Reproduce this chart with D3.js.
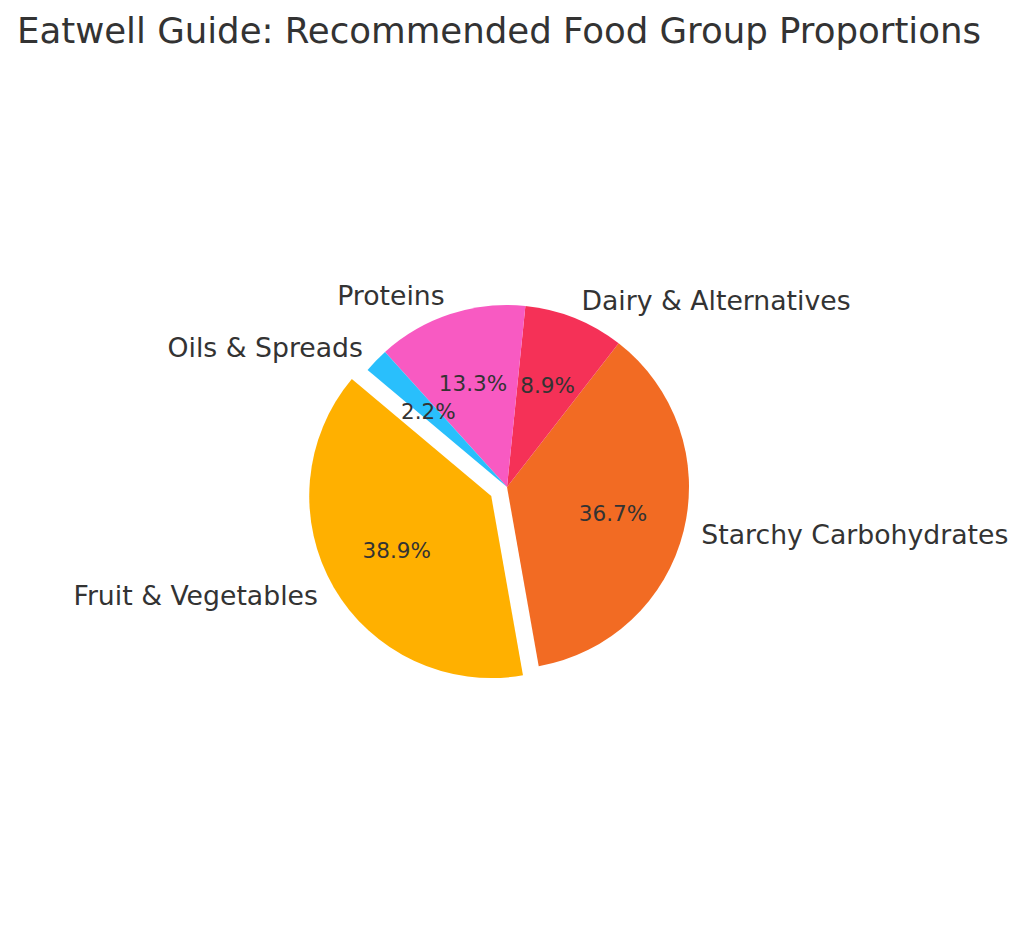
<!DOCTYPE html>
<html>
<head>
<meta charset="utf-8">
<script src="https://cdn.jsdelivr.net/npm/d3@7"></script>
<style>
  html, body { margin: 0; padding: 0; background: #fff; }
  svg { display: block; font-family: "DejaVu Sans", sans-serif; }
</style>
</head>
<body>
<svg id="chart" width="1024" height="944"></svg>
<script>
  'use strict';

  var categories = ['Fruit & Vegetables', 'Starchy Carbohydrates', 'Dairy & Alternatives', 'Proteins', 'Oils & Spreads'];
  var shares = [38.9, 36.7, 8.9, 13.3, 2.2];
  var colors = ['#ffb000', '#f26b23', '#f53157', '#f85ac2', '#29bffc'];
  var explode = [0.1, 0, 0, 0, 0];

  var cx = 507;
  var cy = 487;
  var radius = 182;
  var textColor = '#333333';

  var data = categories.map(function(c, i) {
    return { name: c, value: shares[i], color: colors[i], explode: explode[i] };
  });

  // matplotlib style: start at 140 deg, counterclockwise
  var start = (90 - 140) * Math.PI / 180;
  var pie = d3.pie()
    .sort(null)
    .value(function(d) { return d.value; })
    .startAngle(start)
    .endAngle(start - 2 * Math.PI);

  var arc = d3.arc().innerRadius(0).outerRadius(radius);

  var $svg = d3.select('#chart');

  $svg.append('text')
    .attr('x', 499)
    .attr('y', 43)
    .attr('text-anchor', 'middle')
    .attr('fill', textColor)
    .style('font-size', '35.6px')
    .attr('textLength', 964)
    .attr('lengthAdjust', 'spacing')
    .text('Eatwell Guide: Recommended Food Group Proportions');

  var arcs = pie(data);

  function mid(d) {
    return (d.startAngle + d.endAngle) / 2;
  }

  var $g = $svg.append('g')
    .attr('transform', 'translate(' + cx + ',' + cy + ')');

  var $slices = $g.selectAll('g.slice')
    .data(arcs)
    .enter()
    .append('g')
    .attr('class', 'slice')
    .attr('transform', function(d) {
      var a = mid(d);
      var off = d.data.explode * radius;
      return 'translate(' + (off * Math.sin(a)) + ',' + (-off * Math.cos(a)) + ')';
    });

  $slices.append('path')
    .attr('d', arc)
    .attr('fill', function(d) { return d.data.color; });

  $slices.append('text')
    .attr('x', function(d) { return 1.1 * radius * Math.sin(mid(d)); })
    .attr('y', function(d) { return -1.1 * radius * Math.cos(mid(d)) - 1; })
    .attr('text-anchor', function(d) { return Math.sin(mid(d)) < 0 ? 'end' : 'start'; })
    .attr('dominant-baseline', 'central')
    .attr('fill', textColor)
    .style('font-size', '26.7px')
    .text(function(d) { return d.data.name; });

  $slices.append('text')
    .attr('x', function(d) { return 0.6 * radius * Math.sin(mid(d)); })
    .attr('y', function(d) { return -0.6 * radius * Math.cos(mid(d)); })
    .attr('text-anchor', 'middle')
    .attr('dominant-baseline', 'central')
    .attr('fill', textColor)
    .style('font-size', '21.5px')
    .text(function(d) { return d.data.value.toFixed(1) + '%'; });
</script>
</body>
</html>
